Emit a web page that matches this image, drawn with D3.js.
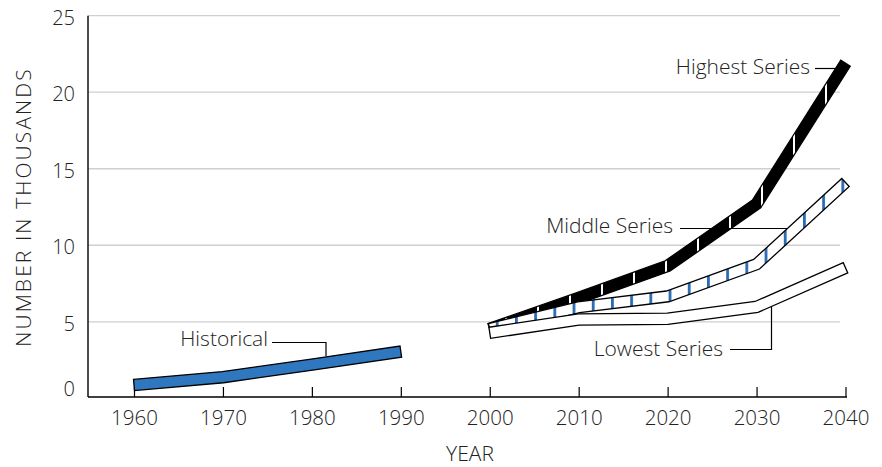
<!DOCTYPE html>
<html>
<head>
<meta charset="utf-8">
<script src="https://cdn.jsdelivr.net/npm/d3@7"></script>
<style>
  body { margin: 0; background: #fff; }
  svg text { font-family: "Open Sans", "DejaVu Sans", sans-serif; font-weight: 300; fill: #222; }
</style>
</head>
<body>
<svg width="882" height="467"></svg>
<script>
// data (thousands)
var histYears = [1960, 1970, 1980, 1990];
var histValues = [0.87, 1.38, 2.2, 3.05];

var projYears = [2000, 2010, 2020, 2030, 2040];
var highestValues = [4.53, 6.56, 8.65, 12.7, 21.9];
var middleValues = [4.53, 5.95, 6.66, 8.76, 14.1];
var lowestValues = [4.28, 5.15, 5.2, 5.97, 8.53];

var xTicks = [1960, 1970, 1980, 1990, 2000, 2010, 2020, 2030, 2040];
var yTicks = [0, 5, 10, 15, 20, 25];

var svg = d3.select("svg");

var x = d3.scaleLinear().domain([1960, 2040]).range([134, 845.5]);
var y = d3.scaleLinear().domain([0, 25]).range([398.3, 15.7]);

var defs = svg.append("defs");

// stripe patterns
var pHigh = defs.append("pattern")
  .attr("id", "stripeHigh")
  .attr("patternUnits", "userSpaceOnUse")
  .attr("x", 25).attr("y", 0)
  .attr("width", 32).attr("height", 467);
pHigh.append("rect").attr("width", 32).attr("height", 467).attr("fill", "#000");
pHigh.append("rect").attr("x", 0).attr("width", 2).attr("height", 467).attr("fill", "#fff");

var pMid = defs.append("pattern")
  .attr("id", "stripeMid")
  .attr("patternUnits", "userSpaceOnUse")
  .attr("x", 515 % 19.2).attr("y", 0)
  .attr("width", 19.2).attr("height", 467);
pMid.append("rect").attr("width", 19.2).attr("height", 467).attr("fill", "#fff");
pMid.append("rect").attr("x", 0).attr("width", 2.8).attr("height", 467).attr("fill", "#2a6cb4");

// gridlines
svg.append("g")
  .selectAll("line")
  .data(yTicks.filter(function(d) { return d > 0; }))
  .enter().append("line")
  .attr("x1", 88).attr("x2", 840)
  .attr("y1", function(d) { return y(d); })
  .attr("y2", function(d) { return y(d); })
  .attr("stroke", "#cfcfcf")
  .attr("stroke-width", 1.3);

// y labels
svg.append("g")
  .selectAll("text")
  .data(yTicks)
  .enter().append("text")
  .attr("x", 75)
  .attr("y", function(d) { return d == 0 ? y(d) - 9 : y(d) + 2; })
  .attr("dy", "0.35em")
  .attr("text-anchor", "end")
  .style("font-size", "20px")
  .text(function(d) { return d; });

// x axis
var xAxis = d3.axisBottom(x).tickValues(xTicks).tickSize(-10).tickPadding(13).tickFormat(d3.format("d"));
var gx = svg.append("g")
  .attr("transform", "translate(0," + 397 + ")")
  .call(xAxis);
gx.select(".domain").remove();
gx.selectAll("line").attr("stroke", "#000").attr("stroke-width", 1.2);
gx.selectAll("text").style("font-size", "20.5px").style("font-family", null).attr("fill", null);

// axis lines
svg.append("line")
  .attr("x1", 88).attr("x2", 847).attr("y1", 397).attr("y2", 397)
  .attr("stroke", "#000").attr("stroke-width", 1.6);
svg.append("line")
  .attr("x1", 88).attr("x2", 88).attr("y1", y(25)).attr("y2", 397)
  .attr("stroke", "#000").attr("stroke-width", 1.4);

// axis titles
svg.append("text")
  .attr("x", 470).attr("y", 461)
  .attr("text-anchor", "middle")
  .style("font-size", "21px")
  .text("YEAR");
svg.append("text")
  .attr("transform", "translate(31,207) rotate(-90)")
  .attr("text-anchor", "middle")
  .style("font-size", "21px")
  .style("letter-spacing", "2.1px")
  .text("NUMBER IN THOUSANDS");

// ribbon polygon around the line through the points
function ribbon(years, values, half) {
  var pts = years.map(function(yr, i) { return [x(yr), y(values[i])]; });
  var normals = [];
  for (var i = 0; i < pts.length - 1; i++) {
    var dx = pts[i + 1][0] - pts[i][0], dy = pts[i + 1][1] - pts[i][1];
    var len = Math.sqrt(dx * dx + dy * dy);
    normals.push([dy / len, -dx / len]);
  }
  var up = [], down = [];
  pts.forEach(function(p, i) {
    var n;
    var k = 1;
    if (i == 0) n = normals[0];
    else if (i == pts.length - 1) n = normals[normals.length - 1];
    else {
      var a = normals[i - 1], b = normals[i];
      var mx = a[0] + b[0], my = a[1] + b[1];
      var ml = Math.sqrt(mx * mx + my * my);
      n = [mx / ml, my / ml];
      k = 1 / (n[0] * a[0] + n[1] * a[1]);
    }
    up.push([p[0] + n[0] * half * k, p[1] + n[1] * half * k]);
    down.push([p[0] - n[0] * half * k, p[1] - n[1] * half * k]);
  });
  return up.concat(down.reverse());
}

var polyLine = d3.line();

function drawBand(years, values, fill, half) {
  svg.append("path")
    .attr("d", polyLine(ribbon(years, values, half)) + "Z")
    .attr("fill", fill)
    .attr("stroke", "#000")
    .attr("stroke-width", 1.3)
    .attr("stroke-linejoin", "miter");
}

drawBand(histYears, histValues, "#2f77bf", 5.6);
drawBand(projYears, highestValues, "url(#stripeHigh)", 5.6);
drawBand(projYears, middleValues, "url(#stripeMid)", 5.5);
drawBand(projYears, lowestValues, "#fff", 5.6);

// labels with leader lines
function label(txt, tx, ty, path) {
  svg.append("text")
    .attr("x", tx).attr("y", ty)
    .attr("dy", "0.35em")
    .attr("text-anchor", "end")
    .style("font-size", "21px")
    .text(txt);
  svg.append("path")
    .attr("d", d3.line()(path))
    .attr("fill", "none")
    .attr("stroke", "#000")
    .attr("stroke-width", 1.2);
}

label("Historical", 268, 339, [[272, 342.5], [326, 342.5], [326, 356]]);
label("Middle Series", 673, 226, [[680, 228.5], [787, 228.5]]);
label("Lowest Series", 723, 349, [[730, 349.5], [771.5, 349.5], [771.5, 307]]);
label("Highest Series", 810, 67, [[815, 68.5], [838, 68.5]]);
</script>
</body>
</html>
